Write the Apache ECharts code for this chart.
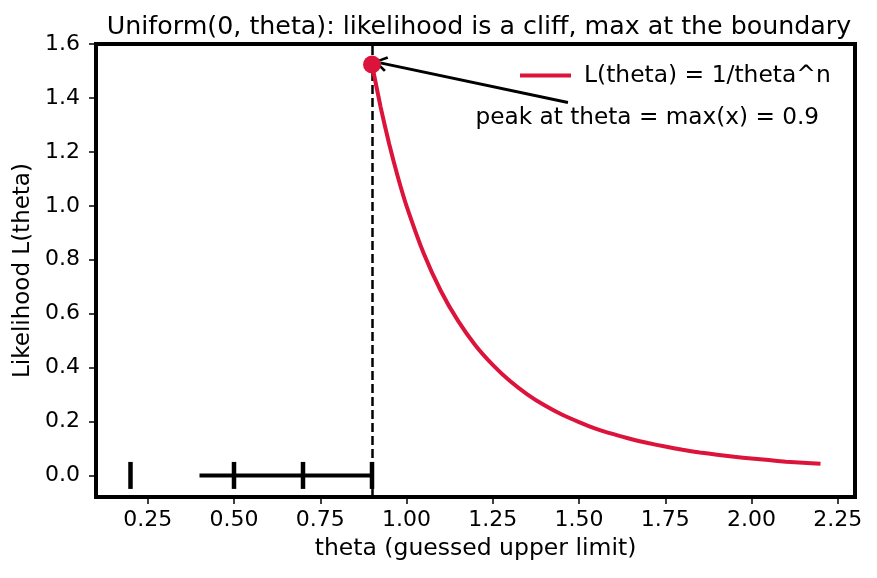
<!DOCTYPE html>
<html>
<head>
<meta charset="utf-8">
<script src="https://cdn.jsdelivr.net/npm/echarts@6/dist/echarts.min.js"></script>
<style>html,body{margin:0;padding:0;background:#fff}#c{width:877px;height:578px}</style>
</head>
<body>
<div id="c"></div>
<script>
// ---- data ----
const thetaVals = [0.90,0.925,0.95,0.975,1.00,1.05,1.10,1.15,1.20,1.25,1.30,1.35,1.40,1.45,1.50,1.55,1.60,1.65,1.70,1.75,1.80,1.85,1.90,1.95,2.00,2.05,2.10,2.15,2.20];
const likeVals  = [1.524,1.366,1.228,1.107,1.000,0.823,0.683,0.572,0.482,0.410,0.350,0.301,0.260,0.226,0.198,0.173,0.153,0.135,0.120,0.107,0.095,0.085,0.077,0.069,0.063,0.057,0.051,0.047,0.043];
const observations = [0.2, 0.5, 0.7, 0.9];
const rangeBar = [0.4, 0.9];
const peak = [0.9, 1.524];
const annotText = [1.2, 1.3];
const arrowStart = [1.468, 1.383];
const arrowEnd = [0.924, 1.530];
const xTicks = [0.25,0.50,0.75,1.00,1.25,1.50,1.75,2.00,2.25];
const yTicks = [0.0,0.2,0.4,0.6,0.8,1.0,1.2,1.4,1.6];
const titleText = 'Uniform(0, theta): likelihood is a cliff, max at the boundary';
const curveName = 'L(theta) = 1/theta^n';
const annotLabel = 'peak at theta = max(x) = 0.9';

const RED = '#dc143c';
const FONT = 'DejaVu Sans';
const chart = echarts.init(document.getElementById('c'), null, {renderer: 'canvas'});
const curve = thetaVals.map((t, i) => [t, likeVals[i]]);

chart.setOption({
  animation: false,
  textStyle: {fontFamily: FONT, color: '#000'},
  title: {
    text: titleText, left: 474, top: 10, textAlign: 'center',
    textStyle: {fontFamily: FONT, fontSize: 25.3, fontWeight: 'normal', color: '#000'}
  },
  legend: {
    data: [curveName], left: 520, top: 64, padding: 0,
    icon: 'rect', itemWidth: 51, itemHeight: 4, itemGap: 17,
    textStyle: {fontFamily: FONT, fontSize: 23.4, color: '#000', padding: [0,0,0,8]}
  },
  grid: {left: 96, right: 22, top: 44, bottom: 81, show: true, borderColor: '#000', borderWidth: 4, containLabel: false},
  xAxis: {
    type: 'value', min: 0.1, max: 2.3,
    name: 'theta (guessed upper limit)', nameLocation: 'middle', nameGap: 40,
    nameTextStyle: {fontFamily: FONT, fontSize: 23.5, color: '#000'},
    axisLine: {show: false, onZero: false},
    axisTick: {show: true, inside: false, length: 7, lineStyle: {color: '#000', width: 1.5}, customValues: xTicks},
    axisLabel: {fontFamily: FONT, fontSize: 22, color: '#000', margin: 12, customValues: xTicks, formatter: v => v.toFixed(2)},
    splitLine: {show: false}
  },
  yAxis: {
    type: 'value', min: -0.08, max: 1.6,
    name: 'Likelihood L(theta)', nameLocation: 'middle', nameGap: 60,
    nameTextStyle: {fontFamily: FONT, fontSize: 23, color: '#000'},
    axisLine: {show: false, onZero: false},
    axisTick: {show: true, inside: false, length: 7, lineStyle: {color: '#000', width: 1.5}, customValues: yTicks},
    axisLabel: {fontFamily: FONT, fontSize: 22, color: '#000', margin: 16, customValues: yTicks, formatter: v => v.toFixed(1)},
    splitLine: {show: false}
  },
  series: [
    {
      name: 'range', type: 'line', data: rangeBar.map(x => [x, 0]), showSymbol: false, symbol: 'none',
      lineStyle: {color: '#000', width: 4}, silent: true, z: 3,
      markLine: {
        silent: true, symbol: ['none','none'], label: {show: false},
        lineStyle: {color: '#000', width: 2.5, type: [9, 4], opacity: 1},
        data: [{xAxis: peak[0]}]
      }
    },
    {
      name: 'obs', type: 'scatter', data: observations.map(x => [x, 0]),
      symbol: 'rect', symbolSize: [4.5, 27], itemStyle: {color: '#000', opacity: 1}, silent: true, z: 4
    },
    {
      name: curveName, type: 'line', data: curve, showSymbol: false, symbol: 'none', smooth: 0.2,
      lineStyle: {color: RED, width: 4}, itemStyle: {color: RED}, z: 5
    },
    {
      name: 'peak', type: 'scatter', data: [peak], symbol: 'circle', symbolSize: 18,
      itemStyle: {color: RED, opacity: 1}, z: 6, silent: true
    },
    {
      name: 'annot', type: 'scatter', data: [annotText], symbolSize: 0, silent: true, z: 7,
      itemStyle: {opacity: 1},
      label: {show: true, position: [0, 0], align: 'left', verticalAlign: 'bottom', offset: [0, 5],
        formatter: annotLabel, fontFamily: FONT, fontSize: 23.2, color: '#000', opacity: 1},
      markLine: {
        silent: true, label: {show: false},
        symbol: ['none', 'path://M5,0 L10,8.5 L8.6,9.6 L5,3 L1.4,9.6 L0,8.5 Z'], symbolSize: [16, 14],
        lineStyle: {color: '#000', width: 3, type: 'solid', opacity: 1},
        data: [[{coord: arrowStart}, {coord: arrowEnd}]]
      }
    }
  ]
});
</script>
</body>
</html>
